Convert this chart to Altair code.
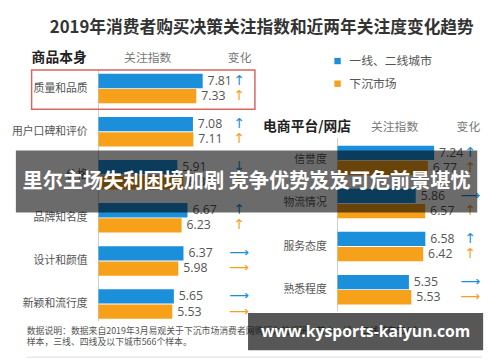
import altair as alt
import pandas as pd

FONT = "Noto Sans CJK SC"
NUMFONT = "Open Sans"

series = ["一线、二线城市", "下沉市场"]
colors = ["#1b8fd9", "#f7a11a"]

left_cats = ["质量和品质", "用户口碑和评价", "价格", "品牌知名度", "设计和颜值", "新颖和流行度"]
left_tier12 = [7.81, 7.08, 5.91, 6.67, 6.37, 5.65]
left_sink = [7.33, 7.11, 6.36, 6.23, 5.98, 5.53]
left_arrow_tier12 = ["↑", "↑", "↓", "↑", "⟶", "⟶"]
left_arrow_sink = ["↑", "↑", "↑", "↑", "⟶", "⟶"]

right_cats = ["信誉度", "物流情况", "服务态度", "熟悉程度"]
right_tier12 = [7.24, 5.86, 6.58, 5.35]
right_sink = [6.77, 6.57, 6.42, 5.53]
right_arrow_tier12 = ["↑", "⟶", "↑", "⟶"]
right_arrow_sink = ["↑", "↑", "↑", "⟶"]

title_text = "2019年消费者购买决策关注指数和近两年关注度变化趋势"
note_lines = [
    "数据说明：数据来自2019年3月易观关于下沉市场消费者网购行为的调研，其中一线、二线城市534个",
    "样本，三线、四线及以下城市566个样本。",
]
banner1_text = "里尔主场失利困境加剧 竞争优势岌岌可危前景堪忧"
banner2_text = "www.kysports-kaiyun.com"


def panel_df(cats, t12, sink, a12, asink):
    rows = []
    for i, c in enumerate(cats):
        rows.append(dict(cat=c, series=series[0], value=t12[i], arrow=a12[i], label=f"{t12[i]:.2f}"))
        rows.append(dict(cat=c, series=series[1], value=sink[i], arrow=asink[i], label=f"{sink[i]:.2f}"))
    return pd.DataFrame(rows)


color_enc = alt.Color(
    "series:N",
    scale=alt.Scale(domain=series, range=colors),
    legend=alt.Legend(
        orient="none", legendX=329, legendY=45, title=None,
        symbolType="square", symbolSize=42, symbolStrokeWidth=0,
        labelFont=FONT, labelFontSize=12, labelColor="#555", rowPadding=11, labelOffset=6,
    ),
)

STEP = 43.8


def panel(cats, t12, sink, a12, asink, x0, yc0, label_x, arrow_x):
    df = panel_df(cats, t12, sink, a12, asink)
    n = len(cats)
    yscale = alt.Scale(domain=cats, range=[yc0 - STEP / 2, yc0 + (n - 0.5) * STEP],
                       paddingInner=0.315, paddingOuter=0.1575)
    xscale = alt.Scale(domain=[0, 10], range=[x0, x0 + 135.6])
    y = alt.Y("cat:N", scale=yscale, axis=None, sort=cats)
    yoff = alt.YOffset("series:N", scale=alt.Scale(domain=series, range=[0, 30], paddingInner=0.06, paddingOuter=0))
    x = alt.X("value:Q", scale=xscale, axis=None)
    base = alt.Chart(df)
    bars = base.mark_bar(cornerRadius=0).encode(x=x, y=y, yOffset=yoff, color=color_enc)
    vals = base.mark_text(align="left", baseline="middle", dx=5, font=NUMFONT, fontSize=12.5,
                          color="#555").encode(x=x, y=y, yOffset=yoff, text="label:N")
    arrows = base.mark_text(align="center", baseline="middle", font="DejaVu Sans", fontSize=14).encode(
        x=alt.value(arrow_x), y=y, yOffset=yoff, text="arrow:N", color=color_enc)
    cl = alt.Chart(pd.DataFrame({"cat": cats})).mark_text(
        align="right", baseline="middle", font=FONT, fontSize=11, color="#555").encode(
        x=alt.value(label_x), y=y, text="cat:N")
    return alt.layer(bars, vals, arrows, cl)


def txt(s, x, y, size, color="#777", weight="normal", align="center", font=FONT, baseline="middle"):
    return alt.Chart(pd.DataFrame({"t": [s]})).mark_text(
        align=align, baseline=baseline, font=font, fontSize=size, fontWeight=weight, color=color
    ).encode(x=alt.value(x), y=alt.value(y), text="t:N")


def rect(x, x2, y, y2, **kw):
    return alt.Chart(pd.DataFrame({"a": [0]})).mark_rect(**kw).encode(
        x=alt.value(x), x2=alt.value(x2), y=alt.value(y), y2=alt.value(y2))


def rule(x, x2, y, y2, color):
    return alt.Chart(pd.DataFrame({"a": [0]})).mark_rule(color=color, strokeWidth=1).encode(
        x=alt.value(x), x2=alt.value(x2), y=alt.value(y), y2=alt.value(y2))


static = [
    txt(title_text, 258, 17, 17, color="#333", weight="bold"),
    txt("商品本身", 52, 48, 14, color="#222", weight="bold"),
    txt("关注指数", 142, 48, 12),
    txt("变化", 235.5, 48, 12),
    txt("电商平台/网店", 304, 118, 14, color="#222", weight="bold"),
    txt("关注指数", 393, 118, 12),
    txt("变化", 468, 118, 12),
    txt(note_lines[0], 19, 325, 9, color="#555", align="left"),
    txt(note_lines[1], 19, 337, 9, color="#555", align="left"),
    rule(19, 482, 352, 352, "#dddddd"),
    rule(92, 92, 60, 315, "#cccccc"),
    rule(335, 335, 129, 305, "#cccccc"),
]

left = panel(left_cats, left_tier12, left_sink, left_arrow_tier12, left_arrow_sink,
             x0=92, yc0=79, label_x=81, arrow_x=235)
right = panel(right_cats, right_tier12, right_sink, right_arrow_tier12, right_arrow_sink,
              x0=335, yc0=152, label_x=324, arrow_x=470)

overlay = [
    rect(24, 251, 60, 100, fillOpacity=0, stroke="#d9665f", strokeWidth=1.5),
    rect(8, 477, 142, 205, color="#000000", opacity=0.58),
    txt(banner1_text, 242.5, 174, 20.5, color="white", weight="bold"),
    rect(244, 483, 307, 345, color="#000000", opacity=0.66),
    txt(banner2_text, 363.5, 327, 16, color="white", weight="bold", font="Open Sans"),
]

chart = alt.layer(*static, left, right, *overlay).resolve_scale(
    x="independent", y="independent", yOffset="independent"
).properties(
    width=492, height=354, padding=0, autosize=alt.AutoSizeParams(type="none")
).configure_view(stroke=None)

chart.save("out.html", embed_options={"renderer": "svg", "actions": False})
